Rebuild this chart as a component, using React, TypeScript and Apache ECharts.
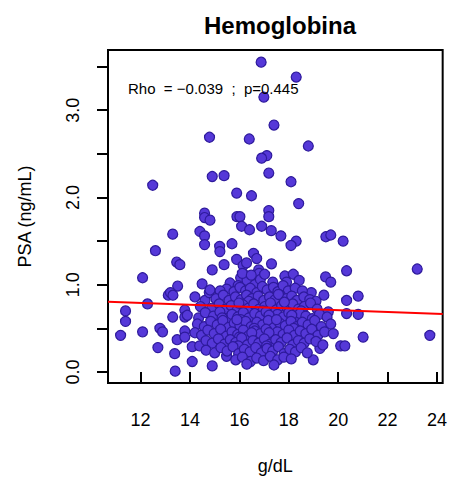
import React, { useEffect, useRef } from "react";
import * as echarts from "echarts";

const FONT = "'Liberation Sans', Arial, Helvetica, sans-serif";

const titleText = "Hemoglobina";
const xAxisTitle = "g/dL";
const yAxisTitle = "PSA (ng/mL)";
const annotation = "Rho  = \u22120.039  ;  p=0.445";

const xTickValues = [12, 14, 16, 18, 20, 22, 24];
const yTickValues = [0, 0.5, 1, 1.5, 2, 2.5, 3, 3.5];
const yLabelValues = [0, 1, 2, 3];
const xRange = [10.68, 24.23];
const yRange = [-0.126, 3.69];

// points
const readPoints: number[][] = [
  [16.88, 3.55], [18.3, 3.38], [16.99, 3.15], [17.4, 2.83], [14.79, 2.69], [16.4, 2.67],
  [18.79, 2.59], [17.11, 2.48], [16.9, 2.45], [17.19, 2.28], [14.9, 2.24], [15.38, 2.25],
  [12.49, 2.14], [18.09, 2.18], [15.89, 2.05], [16.49, 2.02], [18.4, 1.93], [14.59, 1.82],
  [14.59, 1.77], [14.81, 1.74], [15.9, 1.78], [16.02, 1.78], [17.19, 1.85], [17.19, 1.78],
  [16.09, 1.67], [16.41, 1.63], [16.9, 1.67], [17.29, 1.62], [17.68, 1.56], [13.3, 1.58],
  [14.4, 1.61], [14.59, 1.56], [19.5, 1.55], [19.7, 1.57], [20.2, 1.5], [18.3, 1.5],
  [18.09, 1.45], [15.7, 1.47], [15.2, 1.44], [14.59, 1.46], [15.21, 1.38], [12.6, 1.39],
  [13.46, 1.26], [13.59, 1.23], [12.08, 1.08], [13.5, 0.985], [13.12, 0.88], [13.21, 0.91],
  [13.31, 0.88], [12.28, 0.78], [11.39, 0.7], [11.39, 0.58], [11.19, 0.42], [12.08, 0.46],
  [12.7, 0.28], [12.78, 0.5], [12.89, 0.46], [13.3, 0.63], [13.38, 0.21], [13.4, 0.01],
  [13.48, 0.37], [13.79, 0.71], [13.79, 0.63], [13.89, 0.65], [13.79, 0.47], [13.79, 0.4],
  [14.09, 0.29], [14.09, 0.12], [14.2, 0.86], [14.49, 1.01], [14.61, 0.82], [14.78, 0.91],
  [14.81, 0.94], [14.9, 1.17], [15.38, 1.23], [15.89, 1.29], [16.15, 1.22], [16.29, 1.25],
  [16.18, 1.12], [16.57, 1.36], [16.7, 1.3], [16.78, 1.17], [16.8, 1.13], [17.3, 1.24],
  [20.34, 1.16], [19.49, 1.09], [19.7, 1.03], [20.34, 0.82], [20.34, 0.67], [19.6, 0.69],
  [19.42, 0.88], [18.91, 0.91], [20.1, 0.3], [18.99, 0.14], [19.26, 0.27], [14.9, 0.07],
  [15.48, 0.18], [17.84, 1.1], [18.18, 1.12], [18.42, 1.05], [17.91, 1.03], [23.2, 1.18],
  [23.71, 0.42], [20.81, 0.87], [20.81, 0.66], [21.01, 0.4], [20.27, 0.3], [14.39, 0.3],
];

// estimated points in the dense cloud
const cloudPoints: number[][] = [
  [15.62, 1.02], [16.05, 1.08], [16.31, 1.05], [16.62, 1.0], [16.85, 1.06], [17.02, 1.12],
  [17.35, 1.03], [16.12, 1.13], [15.95, 0.99], [16.48, 1.11],
  [15.48, 0.95], [15.78, 0.92], [16.02, 0.97], [16.25, 0.93], [16.44, 0.96], [16.71, 0.91],
  [16.93, 0.98], [17.12, 0.94], [17.38, 0.97], [17.56, 0.92], [17.77, 0.99], [17.98, 0.93],
  [18.26, 0.96], [18.55, 0.93], [15.22, 0.93],
  [15.05, 0.84], [15.35, 0.88], [15.58, 0.82], [15.84, 0.86], [16.08, 0.83], [16.29, 0.88],
  [16.51, 0.84], [16.76, 0.87], [16.99, 0.82], [17.22, 0.86], [17.45, 0.83], [17.66, 0.88],
  [17.89, 0.84], [18.12, 0.87], [18.33, 0.82], [18.61, 0.86], [18.85, 0.83], [19.1, 0.81],
  [16.38, 0.81], [17.58, 0.89],
  [14.42, 0.75], [14.88, 0.73], [15.18, 0.78], [15.44, 0.72], [15.67, 0.76], [15.91, 0.71],
  [16.14, 0.77], [16.36, 0.73], [16.58, 0.78], [16.8, 0.72], [17.03, 0.75], [17.26, 0.79],
  [17.48, 0.71], [17.71, 0.76], [17.94, 0.73], [18.16, 0.78], [18.39, 0.72], [18.63, 0.75],
  [18.88, 0.79], [19.15, 0.72], [15.98, 0.79], [16.95, 0.7], [17.82, 0.8], [18.5, 0.7],
  [14.35, 0.62], [14.62, 0.68], [14.95, 0.64], [15.21, 0.69], [15.47, 0.61], [15.7, 0.66],
  [15.93, 0.63], [16.16, 0.68], [16.39, 0.62], [16.62, 0.67], [16.85, 0.64], [17.08, 0.69],
  [17.31, 0.61], [17.54, 0.66], [17.77, 0.63], [18.0, 0.68], [18.23, 0.62], [18.46, 0.67],
  [18.69, 0.64], [18.95, 0.61], [19.24, 0.66], [19.55, 0.63], [16.05, 0.6], [17.2, 0.65],
  [18.12, 0.65], [15.3, 0.62],
  [14.3, 0.55], [14.58, 0.52], [14.84, 0.58], [15.1, 0.54], [15.33, 0.59], [15.56, 0.51],
  [15.79, 0.56], [16.02, 0.53], [16.25, 0.58], [16.48, 0.52], [16.71, 0.57], [16.94, 0.54],
  [17.17, 0.59], [17.4, 0.51], [17.63, 0.56], [17.86, 0.53], [18.09, 0.58], [18.32, 0.52],
  [18.55, 0.57], [18.78, 0.54], [19.05, 0.59], [19.32, 0.52], [19.7, 0.55], [16.6, 0.5],
  [17.5, 0.6], [15.9, 0.6], [18.2, 0.5],
  [14.2, 0.45], [14.47, 0.42], [14.72, 0.48], [14.98, 0.44], [15.24, 0.49], [15.47, 0.41],
  [15.7, 0.46], [15.93, 0.43], [16.16, 0.48], [16.39, 0.42], [16.62, 0.47], [16.85, 0.44],
  [17.08, 0.49], [17.31, 0.41], [17.54, 0.46], [17.77, 0.43], [18.0, 0.48], [18.23, 0.42],
  [18.46, 0.47], [18.69, 0.44], [18.93, 0.49], [19.18, 0.42], [19.45, 0.46], [19.8, 0.44],
  [16.0, 0.4], [17.2, 0.45], [16.5, 0.45],
  [14.65, 0.36], [14.9, 0.33], [15.15, 0.38], [15.4, 0.32], [15.63, 0.37], [15.86, 0.34],
  [16.09, 0.39], [16.32, 0.31], [16.55, 0.36], [16.78, 0.33], [17.01, 0.38], [17.24, 0.32],
  [17.47, 0.37], [17.7, 0.34], [17.93, 0.39], [18.16, 0.31], [18.39, 0.36], [18.62, 0.33],
  [18.85, 0.38], [19.1, 0.35], [19.38, 0.31], [15.95, 0.3], [17.1, 0.3],
  [14.65, 0.25], [15.0, 0.22], [15.25, 0.28], [15.5, 0.24], [15.74, 0.29], [15.97, 0.21],
  [16.2, 0.26], [16.43, 0.23], [16.66, 0.28], [16.89, 0.22], [17.12, 0.27], [17.35, 0.24],
  [17.58, 0.29], [17.81, 0.21], [18.04, 0.26], [18.27, 0.23], [18.5, 0.28], [18.75, 0.22],
  [15.85, 0.14], [16.12, 0.17], [16.45, 0.12], [16.7, 0.16], [16.98, 0.13], [17.25, 0.18],
  [17.55, 0.14], [17.8, 0.17], [18.1, 0.15], [16.3, 0.09], [17.4, 0.08],
];

const fitX = [10.68, 24.23];
const fitY = [0.805, 0.664];

export default function App() {
  const ref = useRef<HTMLDivElement>(null);
  useEffect(() => {
    if (!ref.current) return;
    const chart = echarts.init(ref.current, null, { renderer: "svg" });
    const allPoints = readPoints.concat(cloudPoints);
    chart.setOption({
      animation: false,
      backgroundColor: "#ffffff",
      textStyle: { fontFamily: FONT },
      title: {
        text: titleText,
        left: 275,
        top: 8,
        textAlign: "center",
        textStyle: { fontFamily: FONT, fontSize: 24, fontWeight: "bold", color: "#000" },
      },
      grid: {
        left: 108,
        top: 50,
        width: 335,
        height: 333,
        show: true,
        borderColor: "#000",
        borderWidth: 2,
        backgroundColor: "transparent",
      },
      xAxis: {
        type: "value",
        min: xRange[0],
        max: xRange[1],
        name: xAxisTitle,
        nameLocation: "middle",
        nameGap: 74,
        nameTextStyle: { fontFamily: FONT, fontSize: 18, color: "#000" },
        axisLine: { show: false },
        splitLine: { show: false },
        axisTick: {
          show: true,
          length: 11,
          inside: false,
          customValues: xTickValues,
          lineStyle: { color: "#000", width: 2 },
        },
        axisLabel: {
          customValues: xTickValues,
          margin: 28,
          fontFamily: FONT,
          fontSize: 18,
          color: "#000",
        },
      },
      yAxis: {
        type: "value",
        min: yRange[0],
        max: yRange[1],
        name: yAxisTitle,
        nameLocation: "middle",
        nameGap: 74,
        nameRotate: 90,
        nameTextStyle: { fontFamily: FONT, fontSize: 18, color: "#000" },
        axisLine: { show: false },
        splitLine: { show: false },
        axisTick: {
          show: true,
          length: 11,
          inside: false,
          customValues: yTickValues,
          lineStyle: { color: "#000", width: 2 },
        },
        axisLabel: {
          customValues: yLabelValues,
          rotate: 90,
          margin: 26,
          fontFamily: FONT,
          fontSize: 18,
          color: "#000",
          formatter: (v: number) => v.toFixed(1),
        },
      },
      graphic: [
        {
          type: "text",
          left: 128,
          top: 81,
          z: 100,
          style: { text: annotation, font: `15px ${FONT}`, fill: "#000" },
        },
      ],
      series: [
        {
          type: "scatter",
          data: allPoints,
          symbol: "circle",
          symbolSize: 10,
          itemStyle: { color: "#5538d8", borderColor: "#2e1a9c", borderWidth: 1.2, opacity: 1 },
          z: 2,
        },
        {
          type: "line",
          data: fitX.map((x, i) => [x, fitY[i]]),
          symbol: "none",
          lineStyle: { color: "#ff0000", width: 2 },
          z: 3,
        },
      ],
    });
    return () => chart.dispose();
  }, []);
  return (
    <div
      ref={ref}
      style={{ position: "fixed", left: 0, top: 0, width: 450, height: 481 }}
    />
  );
}
